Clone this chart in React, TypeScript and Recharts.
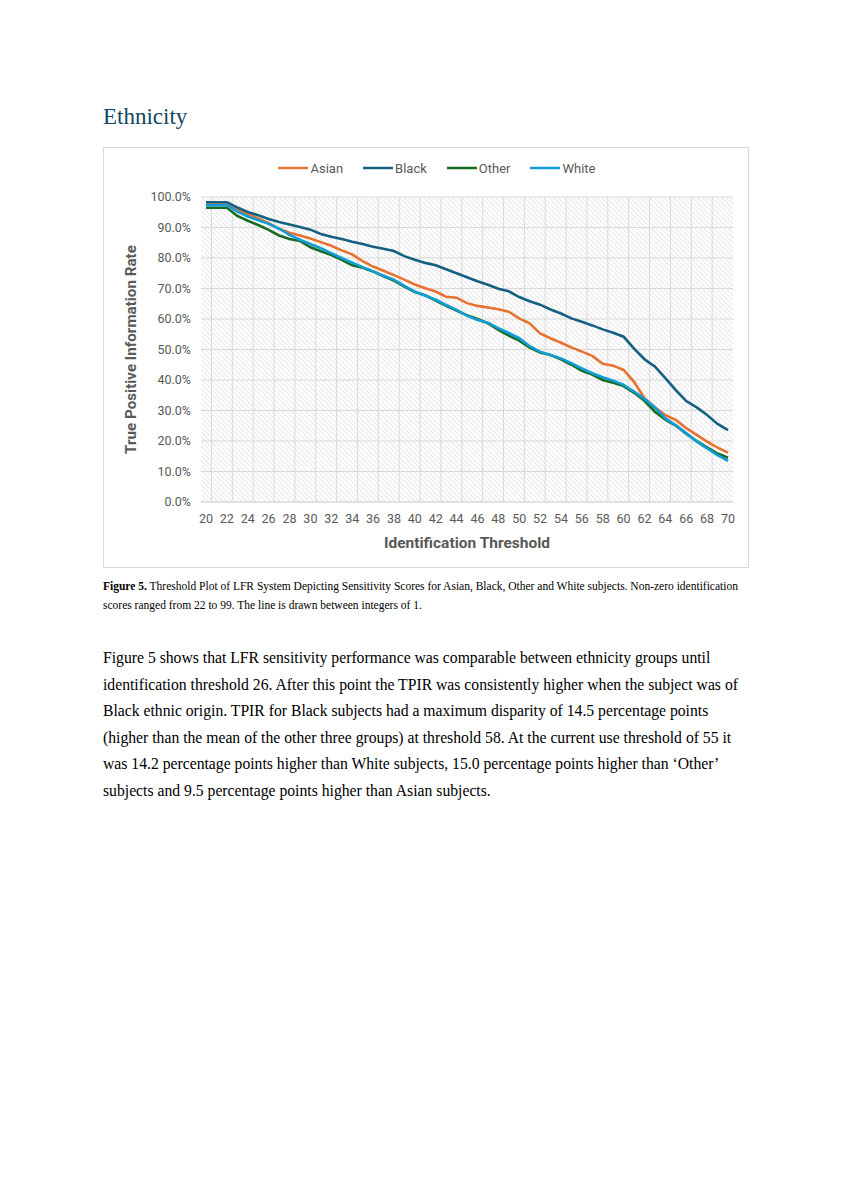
import React from "react";
import {
  LineChart,
  Line,
  XAxis,
  YAxis,
  CartesianGrid,
  Legend,
} from "recharts";

const thresholds = [
  20, 21, 22, 23, 24, 25, 26, 27, 28, 29, 30, 31, 32, 33, 34, 35, 36, 37, 38,
  39, 40, 41, 42, 43, 44, 45, 46, 47, 48, 49, 50, 51, 52, 53, 54, 55, 56, 57,
  58, 59, 60, 61, 62, 63, 64, 65, 66, 67, 68, 69, 70,
];

const asian = [
  97.5, 97.5, 97.5, 96.0, 94.4, 93.0, 91.4, 89.6, 88.3, 87.4, 86.4, 85.2, 84.0,
  82.5, 81.2, 79.0, 77.2, 75.8, 74.4, 72.9, 71.3, 70.1, 69.0, 67.3, 67.0, 65.2,
  64.3, 63.8, 63.2, 62.4, 60.2, 58.6, 55.3, 53.7, 52.2, 50.7, 49.3, 47.9, 45.3,
  44.7, 43.3, 39.4, 34.0, 31.0, 28.5, 26.9, 24.2, 22.0, 19.8, 17.8, 16.2,
];

const black = [
  98.3, 98.3, 98.3, 96.6, 95.1, 94.0, 92.8, 91.8, 91.0, 90.2, 89.3, 87.9, 87.0,
  86.2, 85.3, 84.6, 83.7, 83.0, 82.3, 80.6, 79.4, 78.4, 77.6, 76.3, 75.0, 73.7,
  72.4, 71.2, 69.9, 69.1, 67.2, 65.8, 64.7, 63.1, 61.8, 60.2, 59.1, 57.9, 56.6,
  55.5, 54.2, 50.3, 46.8, 44.4, 40.6, 36.7, 33.1, 31.0, 28.5, 25.6, 23.6,
];

const other = [
  96.5, 96.5, 96.5, 93.8, 92.2, 90.8, 89.2, 87.4, 86.2, 85.6, 83.5, 82.2, 81.0,
  79.4, 77.6, 76.8, 75.6, 74.0, 72.6, 70.6, 68.8, 67.8, 66.0, 64.3, 62.8, 61.2,
  60.0, 58.6, 56.4, 54.6, 52.9, 50.6, 49.0, 48.2, 46.8, 45.0, 43.0, 41.8, 40.0,
  39.1, 38.0, 35.8, 33.2, 29.6, 27.0, 25.0, 22.4, 20.0, 17.9, 15.9, 14.5,
];

const white = [
  97.3, 97.3, 97.3, 95.2, 93.6, 92.4, 91.2, 89.6, 87.6, 86.0, 84.6, 83.2, 81.6,
  80.0, 78.5, 77.0, 75.6, 74.2, 72.9, 70.9, 69.0, 67.6, 66.3, 64.6, 63.0, 61.1,
  59.7, 58.8, 57.0, 55.4, 53.7, 51.1, 49.3, 48.2, 47.1, 45.5, 43.8, 42.2, 40.9,
  39.8, 38.4, 36.2, 33.8, 31.0, 27.4, 25.2, 22.5, 19.8, 17.6, 15.4, 13.5,
];

const yTicks = [0, 10, 20, 30, 40, 50, 60, 70, 80, 90, 100];

const series = [
  { key: "Asian", color: "#E97132" },
  { key: "Black", color: "#156082" },
  { key: "Other", color: "#196B24" },
  { key: "White", color: "#0F9ED5" },
];

const data = thresholds.map((t, i) => ({
  threshold: t,
  Asian: asian[i],
  Black: black[i],
  Other: other[i],
  White: white[i],
}));

const sans = "Roboto, 'Liberation Sans', sans-serif";
const serif = "'Liberation Serif', 'Times New Roman', serif";
const grey = "#595959";

const LegendRow = () => (
  <div
    style={{
      display: "flex",
      justifyContent: "center",
      alignItems: "center",
      height: 24,
      fontFamily: sans,
      fontSize: 13,
      color: grey,
    }}
  >
    {series.map((s) => (
      <span
        key={s.key}
        style={{ display: "flex", alignItems: "center", margin: "0 10px" }}
      >
        <svg width={30} height={6} style={{ marginRight: 2 }}>
          <line x1={0} y1={3} x2={30} y2={3} stroke={s.color} strokeWidth={2.5} />
        </svg>
        {s.key}
      </span>
    ))}
  </div>
);

const paragraph = [
  "Figure 5 shows that LFR sensitivity performance was comparable between ethnicity groups until",
  "identification threshold 26. After this point the TPIR was consistently higher when the subject was of",
  "Black ethnic origin. TPIR for Black subjects had a maximum disparity of 14.5 percentage points",
  "(higher than the mean of the other three groups) at threshold 58. At the current use threshold of 55 it",
  "was 14.2 percentage points higher than White subjects, 15.0 percentage points higher than \u2018Other\u2019",
  "subjects and 9.5 percentage points higher than Asian subjects.",
];

export default function App() {
  return (
    <div
      style={{
        position: "absolute",
        left: 0,
        top: 0,
        width: 851,
        height: 1200,
        background: "#fff",
        overflow: "hidden",
      }}
    >
      <div
        style={{
          position: "absolute",
          left: 103,
          top: 103,
          fontFamily: serif,
          fontSize: 23,
          lineHeight: "28px",
          color: "#0F4761",
        }}
      >
        Ethnicity
      </div>

      <div
        style={{
          position: "absolute",
          left: 103,
          top: 147,
          width: 646,
          height: 421,
          border: "1px solid #d9d9d9",
          boxSizing: "border-box",
        }}
      >
        <LineChart
          width={644}
          height={419}
          data={data}
          margin={{ top: 25, right: 15, bottom: 35, left: 37 }}
        >
          <defs>
            <pattern
              id="hatch"
              width={3.4}
              height={3.4}
              patternUnits="userSpaceOnUse"
              patternTransform="rotate(-45)"
            >
              <rect width={3.4} height={3.4} fill="#ffffff" />
              <line x1={0} y1={0} x2={0} y2={3.4} stroke="#d4d4d4" strokeWidth={1.1} />
            </pattern>
          </defs>
          <Legend
            verticalAlign="top"
            wrapperStyle={{ top: 8 }}
            content={() => <LegendRow />}
          />
          <CartesianGrid
            fill="url(#hatch)"
            fillOpacity={1}
            stroke="#d9d9d9"
            verticalCoordinatesGenerator={({ offset }: any) =>
              thresholds
                .filter((_, i) => i % 2 === 0 && i < thresholds.length - 1)
                .map(
                  (_, k) =>
                    offset.left + ((2 * k + 1) * offset.width) / thresholds.length
                )
            }
          />
          <XAxis
            dataKey="threshold"
            interval={1}
            height={30}
            padding={{ left: 5, right: 5 }}
            axisLine={{ stroke: "#d9d9d9" }}
            tickLine={false}
            tickMargin={6}
            tick={{ fill: grey, fontSize: 12.5, fontFamily: sans }}
            label={{
              value: "Identification Threshold",
              position: "center",
              dy: 25,
              fill: grey,
              fontSize: 15.5,
              fontWeight: 700,
              fontFamily: sans,
            }}
          />
          <YAxis
            width={60}
            domain={[0, 100]}
            ticks={yTicks}
            axisLine={false}
            tickLine={false}
            tickMargin={4}
            tickFormatter={(v: number) => `${v.toFixed(1)}%`}
            tick={{ fill: grey, fontSize: 12.5, fontFamily: sans }}
            label={{
              value: "True Positive Information Rate",
              angle: -90,
              position: "center",
              dx: -40,
              fill: grey,
              fontSize: 15.2,
              fontWeight: 700,
              fontFamily: sans,
            }}
          />
          {series.map((s) => (
            <Line
              key={s.key}
              type="linear"
              dataKey={s.key}
              stroke={s.color}
              strokeWidth={2.6}
              dot={false}
              isAnimationActive={false}
            />
          ))}
        </LineChart>
      </div>

      <div
        style={{
          position: "absolute",
          left: 103,
          top: 577,
          fontFamily: serif,
          fontSize: 11.5,
          lineHeight: "19px",
          color: "#000",
          whiteSpace: "nowrap",
        }}
      >
        <div>
          <b>Figure 5.</b> Threshold Plot of LFR System Depicting Sensitivity
          Scores for Asian, Black, Other and White subjects. Non-zero
          identification
        </div>
        <div>
          scores ranged from 22 to 99. The line is drawn between integers of 1.
        </div>
      </div>

      <div
        style={{
          position: "absolute",
          left: 103,
          top: 645,
          fontFamily: serif,
          fontSize: 15.7,
          lineHeight: "26.6px",
          color: "#000",
          whiteSpace: "nowrap",
        }}
      >
        {paragraph.map((line, i) => (
          <div key={i}>{line}</div>
        ))}
      </div>
    </div>
  );
}
